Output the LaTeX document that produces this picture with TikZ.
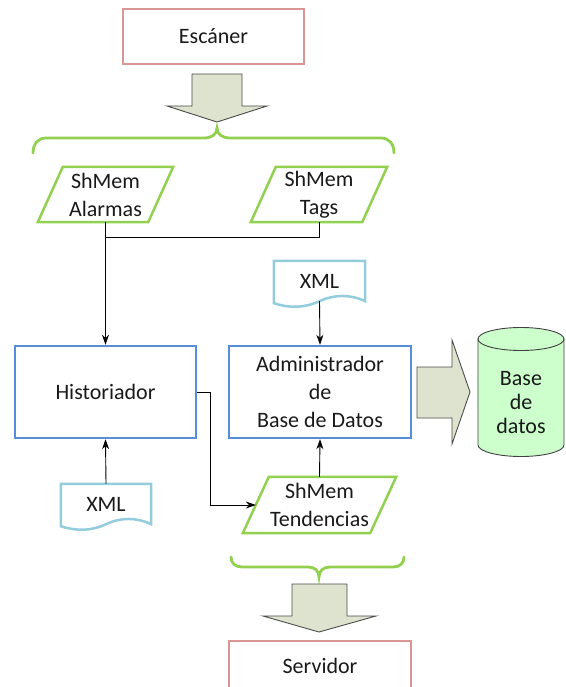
\documentclass[tikz,border=0pt]{standalone}
\usepackage{fontspec}
\setmainfont{Carlito}
\usetikzlibrary{arrows.meta,calc}

\definecolor{endline}{HTML}{D99694}
\definecolor{procline}{HTML}{558ED5}
\definecolor{memline}{HTML}{92D050}
\definecolor{docline}{HTML}{93CDDD}
\definecolor{bigarrow}{HTML}{DDE3CF}
\definecolor{dbfill}{HTML}{CCFFCC}

% parallelogram outline around a plain node: #1 node name, #2 slant
\newcommand\drawparallel[2]{%
  \draw[memshape] ($(#1.north west)+(#2,0)$) -- (#1.north east)
    -- ($(#1.south east)+(-#2,0)$) -- (#1.south west) -- cycle;}
% document outline (wavy bottom) around a plain node
\newcommand\drawdocument[1]{%
  \draw[docshape] (#1.north west) -- (#1.north east) -- (#1.south east)
    .. controls ($(#1.south east)+(-15,-7)$) and ($(#1.south)+(15,-7)$) .. (#1.south)
    .. controls ($(#1.south)+(-15,7)$) and ($(#1.south west)+(15,7)$) .. ($(#1.south west)+(0,2)$)
    -- cycle;}

\begin{document}
\begin{tikzpicture}[x=1pt,y=-1pt,
  font=\fontsize{22}{28}\selectfont, text=black!90,
  endbox/.style={draw=endline, line width=2.5pt, minimum width=181pt, minimum height=55pt, inner sep=0pt},
  procbox/.style={draw=procline, line width=2.5pt, minimum width=181pt, minimum height=92pt, inner sep=0pt, align=center},
  memnode/.style={inner sep=0pt, minimum height=55pt, align=center},
  memshape/.style={draw=memline, line width=2.5pt, line join=miter},
  docnode/.style={inner sep=0pt, minimum width=91pt, minimum height=40pt},
  docshape/.style={draw=docline, line width=2.5pt},
  brace/.style={draw=memline, line width=2.8pt, line cap=round},
  fat/.style={draw=black!70, line width=0.9pt, fill=bigarrow, line join=miter},
  conn/.style={draw=black, line width=0.9pt},
  flow/.style={conn, -{Stealth[length=10pt,width=7pt]}}
]
\useasboundingbox (0,0) rectangle (565,687);

% ---- scanner and its output arrow ----
\node[endbox] (scan) at (213.5,36.5) {Escáner};
\draw[fat] (192,74) -- (242,74) -- (242,106) -- (267,106) -- (217,122)
  -- (167,106) -- (192,106) -- cycle;
\draw[brace] (33,153) .. controls (33,144) and (38,138) .. (46,138) -- (204,138)
  .. controls (212,138) and (217,134) .. (217,128)
  .. controls (217,134) and (222,138) .. (230,138) -- (381,138)
  .. controls (389,138) and (394,144) .. (394,153);

% ---- shared memories ----
\node[memnode, minimum width=135pt] (alarm) at (105.5,194.5) {ShMem\\Alarmas};
\drawparallel{alarm}{25}
\node[memnode, minimum width=136pt] (tags) at (319,194.5) {ShMem\\Tags};
\drawparallel{tags}{25}
\node[memnode, minimum width=153pt, minimum height=56pt] (tend) at (319.5,505) {ShMem\\Tendencias};
\drawparallel{tend}{26}

% ---- processes ----
\node[procbox] (hist) at (105.5,392) {Historiador};
\node[procbox, minimum width=182pt] (admin) at (320,392) {Administrador\\de\\Base de Datos};

% ---- configuration documents ----
\node[docnode] (xmla) at (319.5,281) {XML};
\drawdocument{xmla}
\node[docnode, minimum width=90pt] (xmlh) at (106,504) {XML};
\drawdocument{xmlh}

% ---- database cylinder ----
\draw[draw=black!75, line width=0.9pt, fill=dbfill]
  (478,339) -- (478,445)
  .. controls (478,451.3) and (497.3,456.5) .. (521,456.5)
  .. controls (544.7,456.5) and (564,451.3) .. (564,445) -- (564,339) -- cycle;
\draw[draw=black!75, line width=0.9pt, fill=dbfill] (521,339) ellipse [x radius=43pt, y radius=11.5pt];
\node[align=center, font=\fontsize{22}{24}\selectfont] (db) at (521,403) {Base\\de\\datos};

% ---- big arrow into the database ----
\draw[fat] (417,367) -- (452,367) -- (452,340) -- (470,392) -- (452,444)
  -- (452,418) -- (417,418) -- cycle;

% ---- server ----
\draw[brace] (231,557) .. controls (231,563) and (235,567) .. (242,567) -- (308,567)
  .. controls (315,567) and (319,571) .. (319,577)
  .. controls (319,571) and (323,567) .. (330,567) -- (393,567)
  .. controls (400,567) and (404,563) .. (404,557);
\draw[fat] (292,584) -- (347,584) -- (347,616) -- (376,616) -- (319,632)
  -- (263,616) -- (292,616) -- cycle;
\node[endbox, minimum width=182pt, minimum height=50pt] (serv) at (320,666) {Servidor};

% ---- connectors ----
\coordinate (join) at (105.5,237);
\coordinate (tendin) at ($(tend.west)+(13,0)$);
\draw[conn] (tags.south) |- (join);
\draw[flow] (alarm.south) -- (hist.north);
\draw[flow] (xmla.south) -- (admin.north);
\draw[flow] (xmlh.north) -- (hist.south);
\draw[flow] (tend.north) -- (admin.south);
\draw[flow] (hist.east) -- ++(13,0) |- (tendin);
\end{tikzpicture}
\end{document}
